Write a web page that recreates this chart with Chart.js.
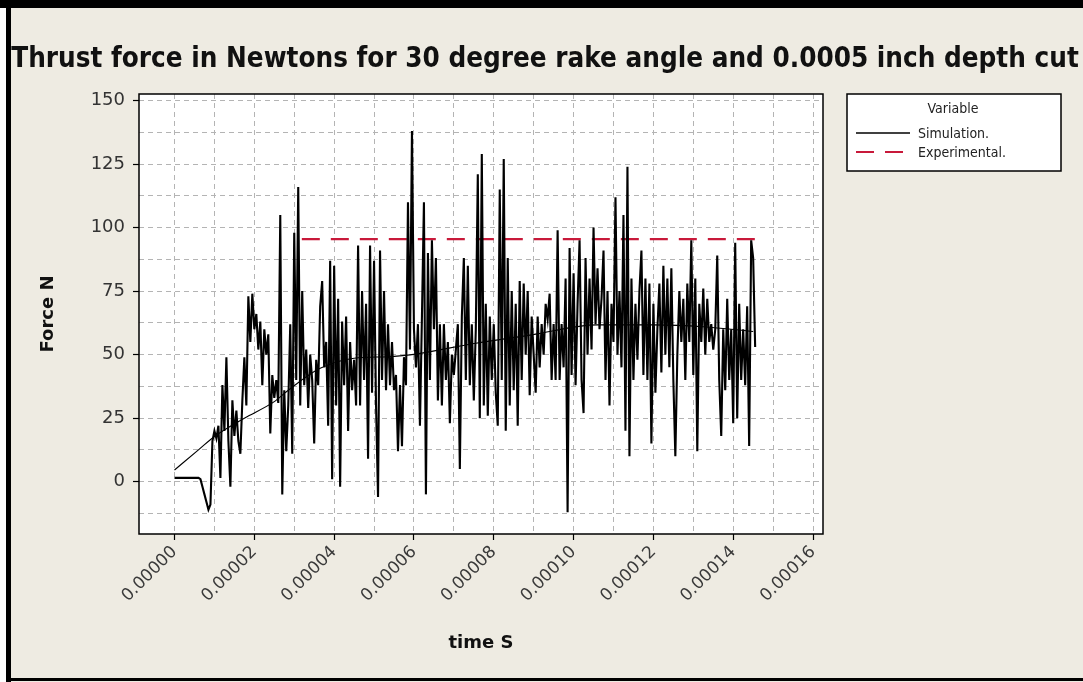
<!DOCTYPE html>
<html><head><meta charset="utf-8">
<script src="https://cdn.jsdelivr.net/npm/chart.js@4.4.0/dist/chart.umd.min.js"></script>
<style>html,body{margin:0;padding:0;background:#fff;} #wrap{width:1083px;height:682px;position:relative;}</style>
</head><body><div id="wrap"><canvas id="c" width="1083" height="682"></canvas></div>
<script>
const chartTitle = "Thrust force in Newtons for 30 degree rake angle and 0.0005 inch depth cut";
const xAxisTitle = "time S";
const yAxisTitle = "Force N";
const legendTitle = "Variable";
const simLabel = "Simulation.";
const expLabel = "Experimental.";

// Simulation samples (one every simStep seconds, starting at t = 0)
const simStep = 5e-7;
const simY = [
 1.5,1.5,1.5,1.5,1.5,1.5,1.5,1.5,1.5,1.5,1.5,1.5,1.5,
 1,-2,-5,-8,-11,-9,
 16,20,17,22,
 1.5,38,20,49,16,-2,32,18,28,16,11,32,
 49,30,73,55,74,60,66,52,63,38,60,50,58,19,42,33,40,31,
 105,-5,36,12,30,
 62,11,98,40,116,30,75,38,52,29,50,40,15,48,38,
 69,79,45,55,22,87,1,85,30,72,-2,63,38,65,20,55,36,48,30,
 93,30,75,40,70,9,93,35,87,30,-6,91,40,75,36,62,38,55,36,42,12,38,14,49,38,
 110,52,138,60,45,62,22,
 65,110,-5,90,40,95,60,88,32,62,30,62,40,55,23,50,42,52,62,5,65,88,40,85,38,62,32,60,
 121,25,129,30,70,26,65,40,62,35,22,115,40,127,20,88,30,75,36,70,22,79,40,78,50,75,34,65,50,
 35,65,45,62,50,70,64,74,40,62,40,99,40,62,45,80,-12,92,42,82,38,70,95,40,27,88,50,80,52,100,
 62,84,60,72,91,40,75,30,70,55,112,50,75,45,105,20,124,10,80,40,70,48,75,91,42,80,40,78,15,70,35,
 60,78,43,85,50,80,45,84,40,10,50,75,55,72,40,78,55,95,42,80,12,70,55,76,50,72,55,62,52,60,
 89,40,18,60,36,72,40,60,23,94,25,70,40,60,38,69,14,95,88,53
];
// Smooth underlying simulation trend
const trendT = [0, 0.000006, 0.00001, 0.0000175, 0.000025, 0.0000285, 0.0000365, 0.000045, 0.0000535, 0.000059, 0.0000755, 0.0000895, 0.000106, 0.00012, 0.0001325, 0.000145];
const trendY = [4.6, 12.5, 17.8, 25, 31.5, 36, 44.6, 48.6, 49.2, 49.9, 54.5, 57.8, 61.7, 61.7, 61, 59.1];
// Experimental
const expT = [0.0000319, 0.0001459];
const expY = [95.5, 95.5];

// Axes
const xMin = -0.0000089, xMax = 0.0001625;
const yMin = -20.6, yMax = 152.6;
const xTickValues = [0,0.00001,0.00002,0.00003,0.00004,0.00005,0.00006,0.00007,0.00008,0.00009,0.0001,0.00011,0.00012,0.00013,0.00014,0.00015,0.00016];
const xTickLabels = ["0.00000","","0.00002","","0.00004","","0.00006","","0.00008","","0.00010","","0.00012","","0.00014","","0.00016"];
const yTickValues = [-12.5,0,12.5,25,37.5,50,62.5,75,87.5,100,112.5,125,137.5,150];
const yTickLabels = ["","0","","25","","50","","75","","100","","125","","150"];

const simData = simY.map((v, i) => ({x: i * simStep, y: v}));
const trendData = trendT.map((t, i) => ({x: t, y: trendY[i]}));
const expData = expT.map((t, i) => ({x: t, y: expY[i]}));

const BG = '#EEEBE2';
const RED = '#C8193A';

const framePlugin = {
  id: 'frame',
  beforeDraw(chart) {
    const {ctx, chartArea: a} = chart;
    ctx.save();
    ctx.fillStyle = BG; ctx.fillRect(0, 0, 1083, 682);
    ctx.fillStyle = '#fff'; ctx.fillRect(a.left, a.top, a.right - a.left, a.bottom - a.top);
    ctx.fillStyle = '#fff'; ctx.fillRect(0, 0, 6, 682);
    ctx.fillStyle = '#000';
    ctx.fillRect(0, 0, 1083, 8);
    ctx.fillRect(6, 0, 5, 682);
    ctx.fillRect(6, 678, 1077, 3);
    ctx.restore();
  },
  afterDatasetsDraw(chart) {
    const {ctx, chartArea: a} = chart;
    ctx.save();
    ctx.strokeStyle = '#000'; ctx.lineWidth = 1.5; ctx.setLineDash([]);
    ctx.strokeRect(a.left, a.top, a.right - a.left, a.bottom - a.top);
    ctx.restore();
  },
  afterDraw(chart) {
    const ctx = chart.ctx;
    ctx.save();
    // title
    let fs = 25;
    ctx.font = 'bold ' + fs + 'px "DejaVu Sans Condensed", "Liberation Sans Narrow", sans-serif';
    const w = ctx.measureText(chartTitle).width;
    fs = fs * 1068 / w;
    ctx.font = 'bold ' + fs.toFixed(2) + 'px "DejaVu Sans Condensed", "Liberation Sans Narrow", sans-serif';
    ctx.fillStyle = '#111'; ctx.textAlign = 'center'; ctx.textBaseline = 'middle';
    ctx.fillText(chartTitle, 545, 60);
    // legend
    const L = 847, T = 94, R = 1061, B = 171;
    ctx.fillStyle = '#fff'; ctx.fillRect(L, T, R - L, B - T);
    ctx.strokeStyle = '#000'; ctx.lineWidth = 1.5; ctx.strokeRect(L, T, R - L, B - T);
    ctx.font = '14px "DejaVu Sans Condensed", sans-serif';
    ctx.fillStyle = '#222'; ctx.textAlign = 'center';
    ctx.fillText(legendTitle, 953, 109);
    const ds = chart.data.datasets;
    const rows = [{d: ds[0], y: 133, w: 1.5}, {d: ds[2], y: 152, w: 2.2}];
    rows.forEach(r => {
      ctx.beginPath();
      ctx.strokeStyle = r.d.borderColor; ctx.lineWidth = r.w;
      ctx.setLineDash(r.d.borderDash || []);
      ctx.moveTo(856, r.y); ctx.lineTo(910, r.y); ctx.stroke();
      ctx.setLineDash([]);
      ctx.textAlign = 'left'; ctx.fillStyle = '#222';
      ctx.fillText(r.d.label, 918, r.y + 1);
    });
    ctx.restore();
  }
};

const tickFont = {family: '"DejaVu Sans", sans-serif', size: 17};
const yTickFont = {family: '"DejaVu Sans", sans-serif', size: 18};
const titleFont = {family: '"DejaVu Sans", sans-serif', size: 18, weight: 'bold'};

new Chart(document.getElementById('c'), {
  type: 'line',
  data: {
    datasets: [
      {label: simLabel, data: simData, borderColor: '#000', borderWidth: 2.1, pointRadius: 0, tension: 0, order: 0},
      {label: simLabel, data: trendData, borderColor: '#000', borderWidth: 1.1, pointRadius: 0, cubicInterpolationMode: 'monotone', order: 1},
      {label: expLabel, data: expData, borderColor: RED, borderWidth: 2.2, borderDash: [18, 11], pointRadius: 0, order: 2}
    ]
  },
  options: {
    responsive: false,
    animation: false,
    devicePixelRatio: 1,
    layout: {autoPadding: false, padding: {left: 38, right: 260, top: 94, bottom: 28}},
    plugins: {legend: {display: false}, title: {display: false}, tooltip: {enabled: false}},
    scales: {
      x: {
        type: 'linear', min: xMin, max: xMax,
        afterBuildTicks: s => { s.ticks = xTickValues.map(v => ({value: v})); },
        afterFit: s => { s.height = 120; },
        border: {display: false, dash: [5, 4]},
        grid: {
          color: '#b4b4b4', lineWidth: 1, tickLength: 6, tickBorderDash: [],
          tickColor: c => (xTickLabels[c.index] ? '#000' : 'rgba(0,0,0,0)'), tickWidth: 1.2
        },
        ticks: {
          autoSkip: false, maxRotation: 45, minRotation: 45, padding: 2,
          color: '#3a3a3a', font: tickFont,
          callback: (v, i) => xTickLabels[i]
        },
        title: {display: true, text: xAxisTitle, color: '#111', font: titleFont, padding: 0}
      },
      y: {
        type: 'linear', min: yMin, max: yMax,
        afterBuildTicks: s => { s.ticks = yTickValues.map(v => ({value: v})); },
        afterFit: s => { s.width = 101; },
        border: {display: false, dash: [5, 4]},
        grid: {
          color: '#b4b4b4', lineWidth: 1, tickLength: 6, tickBorderDash: [],
          tickColor: c => (yTickLabels[c.index] ? '#000' : 'rgba(0,0,0,0)'), tickWidth: 1.2
        },
        ticks: {
          autoSkip: false, padding: 8, color: '#333', font: yTickFont,
          callback: (v, i) => yTickLabels[i]
        },
        title: {display: true, text: yAxisTitle, color: '#111', font: titleFont, padding: 0}
      }
    }
  },
  plugins: [framePlugin]
});
</script>
</body></html>
